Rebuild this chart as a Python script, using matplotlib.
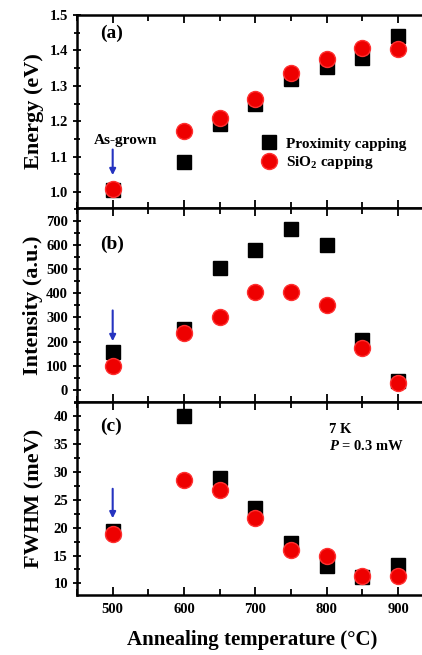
import matplotlib
matplotlib.use("Agg")
import matplotlib.pyplot as plt
from matplotlib.ticker import MultipleLocator, FormatStrFormatter

plt.rcParams['font.family'] = ['Liberation Serif', 'DejaVu Serif']
plt.rcParams['font.weight'] = 'bold'
plt.rcParams['mathtext.fontset'] = 'custom'
plt.rcParams['mathtext.rm'] = 'Liberation Serif:bold'
plt.rcParams['mathtext.it'] = 'Liberation Serif:bold:italic'

# annealing temperatures (500 = as-grown)
temp = [500, 600, 650, 700, 750, 800, 850, 900]

# (a) PL energy (eV)
energy_prox = [1.005, 1.085, 1.192, 1.250, 1.319, 1.354, 1.378, 1.440]
energy_sio2 = [1.010, 1.173, 1.208, 1.263, 1.337, 1.375, 1.406, 1.404]

# (b) intensity (a.u.)
int_prox = [155, 250, 505, 580, 665, 600, 205, 35]
int_sio2 = [100, 235, 300, 405, 405, 350, 175, 30]

# (c) FWHM (meV)
fwhm_prox = [19.5, 40.0, 29.0, 23.5, 17.3, 13.2, 11.2, 13.3]
fwhm_sio2 = [18.8, 28.5, 26.8, 21.8, 16.0, 15.0, 11.4, 11.3]

fig = plt.figure(figsize=(4.22, 6.55), dpi=100)
left, width = 0.1825, 0.83
ax_a = fig.add_axes([left, 0.6824, width, 0.2947])
ax_b = fig.add_axes([left, 0.3863, width, 0.2961], sharex=ax_a)
ax_c = fig.add_axes([left, 0.0915, width, 0.2948], sharex=ax_a)

sq = dict(marker='s', ls='none', ms=10.5, color='black', mec='black')
ci = dict(marker='o', ls='none', ms=11.5, color='#ee0000', mec='#ff3030', mew=1)

ax_a.plot(temp, energy_prox, **sq, label='Proximity capping')
ax_a.plot(temp, energy_sio2, **ci, label='SiO$_2$ capping')
ax_b.plot(temp, int_prox, **sq)
ax_b.plot(temp, int_sio2, **ci)
ax_c.plot(temp, fwhm_prox, **sq)
ax_c.plot(temp, fwhm_sio2, **ci)

ax_a.set_ylim(0.955, 1.5)
ax_a.yaxis.set_major_locator(MultipleLocator(0.1))
ax_a.yaxis.set_minor_locator(MultipleLocator(0.05))
ax_b.set_ylim(-50, 752)
ax_b.yaxis.set_major_locator(MultipleLocator(100))
ax_b.yaxis.set_minor_locator(MultipleLocator(50))
ax_c.set_ylim(7.9, 42.6)
ax_c.yaxis.set_major_locator(MultipleLocator(5))
ax_c.yaxis.set_minor_locator(MultipleLocator(2.5))

ax_c.set_xlim(450, 941)
ax_c.xaxis.set_major_locator(MultipleLocator(100))
ax_c.xaxis.set_minor_locator(MultipleLocator(50))

for ax in (ax_a, ax_b, ax_c):
    for s in ax.spines.values():
        s.set_linewidth(1.8)
    ax.tick_params(axis='x', which='both', direction='in', top=True,
                   labelsize=10.5, width=1.3, pad=6)
    ax.tick_params(axis='y', which='both', direction='inout', right=False,
                   labelsize=10.5, width=1.3)
    ax.tick_params(which='major', length=6)
    ax.tick_params(which='minor', length=4)
    ax.yaxis.set_major_formatter(FormatStrFormatter('%.1f' if ax is ax_a else '%d'))
ax_a.tick_params(labelbottom=False)
ax_b.tick_params(labelbottom=False)
ax_c.set_xticks([500, 600, 700, 800, 900])

ax_a.set_ylabel('Energy (eV)', fontsize=16, fontweight='bold', labelpad=4)
ax_b.set_ylabel('Intensity (a.u.)', fontsize=16, fontweight='bold', labelpad=2)
ax_c.set_ylabel('FWHM (meV)', fontsize=16, fontweight='bold', labelpad=6)
ax_c.set_xlabel('Annealing temperature (°C)', fontsize=15, fontweight='bold', labelpad=10)

ax_a.text(0.065, 0.88, '(a)', transform=ax_a.transAxes, fontsize=14, fontweight='bold')
ax_b.text(0.065, 0.79, '(b)', transform=ax_b.transAxes, fontsize=14, fontweight='bold')
ax_c.text(0.065, 0.85, '(c)', transform=ax_c.transAxes, fontsize=14, fontweight='bold')
ax_c.text(0.72, 0.84, '7 K', transform=ax_c.transAxes, fontsize=10.5, fontweight='bold')
ax_c.text(0.72, 0.75, '$P$ = 0.3 mW', transform=ax_c.transAxes, fontsize=10.5, fontweight='bold')

# as-grown arrows
arr = dict(arrowstyle='-|>', color='#2533c0', lw=1.5, mutation_scale=9)
ax_a.annotate('', xy=(500, 1.04), xytext=(500, 1.128), arrowprops=arr)
ax_a.text(518, 1.146, 'As-grown', ha='center', va='center', fontsize=11, fontweight='bold')
ax_b.annotate('', xy=(500, 190), xytext=(500, 340), arrowprops=arr)
ax_c.annotate('', xy=(500, 21.2), xytext=(500, 27.5), arrowprops=arr)

ax_a.legend(loc='lower left', bbox_to_anchor=(0.5, 0.15), frameon=False,
            handletextpad=0.5, labelspacing=0.25, borderpad=0, handlelength=1.2,
            prop={'weight': 'bold', 'size': 11})

fig.savefig('out.png', dpi=100)
